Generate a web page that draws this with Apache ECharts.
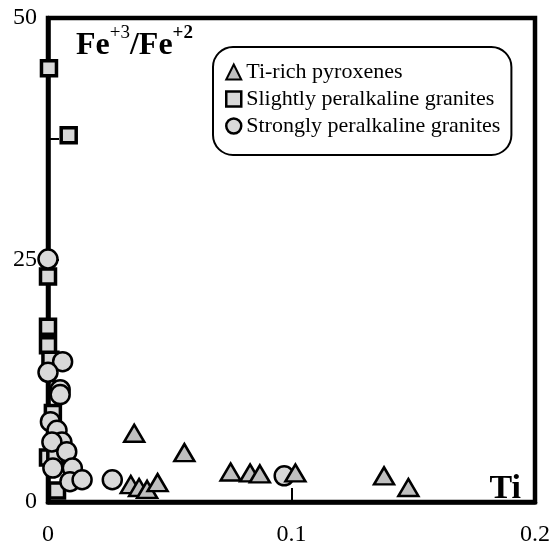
<!DOCTYPE html>
<html><head><meta charset="utf-8">
<script src="https://cdn.jsdelivr.net/npm/echarts@6/dist/echarts.min.js"></script>
<style>html,body{margin:0;padding:0;background:#fff}#c{width:553px;height:547px}</style>
</head><body><div id="c"></div>
<script>
// Ti vs Fe+3/Fe+2
const seriesNames = ['Ti-rich pyroxenes', 'Slightly peralkaline granites', 'Strongly peralkaline granites'];
const xTicks = [0, 0.1, 0.2];
const yTicks = [0, 25, 50];

const slightTi  = [0.0004, 0.0085, 0.0, 0.0, 0.0, 0.001, 0.002, 0.0, 0.003, 0.0037];
const slightFe  = [44.8, 37.9, 23.3, 18.1, 16.2, 14.7, 9.2, 4.6, 4.6, 1.2];

const strongTi  = [0.0, 0.006, 0.0, 0.005, 0.005, 0.001, 0.0037, 0.0057, 0.0016, 0.0077, 0.002, 0.010, 0.009, 0.014, 0.0264, 0.097];
const strongFe  = [25.1, 14.5, 13.4, 11.6, 11.1, 8.3, 7.4, 6.2, 6.2, 5.2, 3.5, 3.5, 2.1, 2.3, 2.3, 2.7];

const pyxTi = [0.0354, 0.056, 0.034, 0.0374, 0.0407, 0.045, 0.075, 0.083, 0.087, 0.1016, 0.138, 0.148];
const pyxFe = [7.1, 5.1, 1.8, 1.5, 1.3, 2.0, 3.1, 3.0, 2.9, 3.0, 2.7, 1.5];

const zip = (a, b) => a.map((v, i) => [v, b[i]]);
const serif = 'Liberation Serif';

const chart = echarts.init(document.getElementById('c'), null, {renderer: 'canvas'});
chart.setOption({
  animation: false,
  backgroundColor: '#fff',
  title: [
    {
      text: '{b|Fe}{s3|+3}{b|/Fe}{s2|+2}',
      left: 71, top: 19,
      textStyle: {
        rich: {
          b: {fontFamily: serif, fontSize: 32, fontWeight: 'bold', color: '#000', lineHeight: 38, verticalAlign: 'bottom'},
          s3: {fontFamily: serif, fontSize: 19, fontWeight: 'normal', color: '#000', verticalAlign: 'top', lineHeight: 20},
          s2: {fontFamily: serif, fontSize: 19, fontWeight: 'bold', color: '#000', verticalAlign: 'top', lineHeight: 20}
        }
      }
    },
    {
      text: 'Ti', right: 27, top: 467,
      textStyle: {fontFamily: serif, fontSize: 34, fontWeight: 'bold', color: '#000'}
    }
  ],
  legend: {
    orient: 'vertical', left: 213, top: 47,
    padding: [12, 11, 16, 12],
    borderColor: '#000', borderWidth: 2, borderRadius: 20,
    itemWidth: 15, itemHeight: 15, itemGap: 1,
    textStyle: {fontFamily: serif, fontSize: 22, color: '#000', lineHeight: 26},
    data: [
      {name: seriesNames[0], icon: 'triangle', itemStyle: {color: '#bfbfbf', borderColor: '#000', borderWidth: 2}},
      {name: seriesNames[1], icon: 'rect', itemStyle: {color: '#d9d9d9', borderColor: '#000', borderWidth: 2.5}},
      {name: seriesNames[2], icon: 'circle', itemStyle: {color: '#d9d9d9', borderColor: '#000', borderWidth: 2.5}}
    ]
  },
  grid: {left: 48, top: 18, right: 17, bottom: 44, show: true, borderColor: '#000', borderWidth: 4.5, backgroundColor: 'transparent'},
  xAxis: {
    type: 'value', min: 0, max: 0.2, interval: 0.1,
    axisLine: {show: true, lineStyle: {color: '#000', width: 4.5}},
    axisTick: {show: true, inside: true, length: 14, lineStyle: {color: '#000', width: 2}},
    axisLabel: {fontFamily: serif, fontSize: 24, color: '#000', margin: 21,
      formatter: v => xTicks.includes(Math.round(v * 10) / 10) ? String(Math.round(v * 10) / 10) : ''},
    splitLine: {show: false}
  },
  yAxis: {
    type: 'value', min: 0, max: 50, interval: 12.5,
    axisLine: {show: true, lineStyle: {color: '#000', width: 4.5}},
    axisTick: {show: true, inside: true, length: 11, lineStyle: {color: '#000', width: 2}},
    axisLabel: {fontFamily: serif, fontSize: 24, color: '#000', margin: 11,
      formatter: v => yTicks.includes(v) ? String(v) : ''},
    splitLine: {show: false}
  },
  series: [
    {
      name: seriesNames[1], type: 'scatter', symbol: 'rect', symbolSize: 15, clip: false, z: 3,
      itemStyle: {color: '#d9d9d9', borderColor: '#000', borderWidth: 3.5, opacity: 1},
      data: zip(slightTi, slightFe)
    },
    {
      name: seriesNames[2], type: 'scatter', symbol: 'circle', symbolSize: 19, clip: false, z: 4,
      itemStyle: {color: '#d9d9d9', borderColor: '#000', borderWidth: 2.5, opacity: 1},
      data: zip(strongTi, strongFe)
    },
    {
      name: seriesNames[0], type: 'scatter', symbol: 'triangle', symbolSize: [20, 17], clip: false, z: 5,
      itemStyle: {color: '#bfbfbf', borderColor: '#000', borderWidth: 2.5, opacity: 1},
      data: zip(pyxTi, pyxFe)
    }
  ]
});
</script>
</body></html>
